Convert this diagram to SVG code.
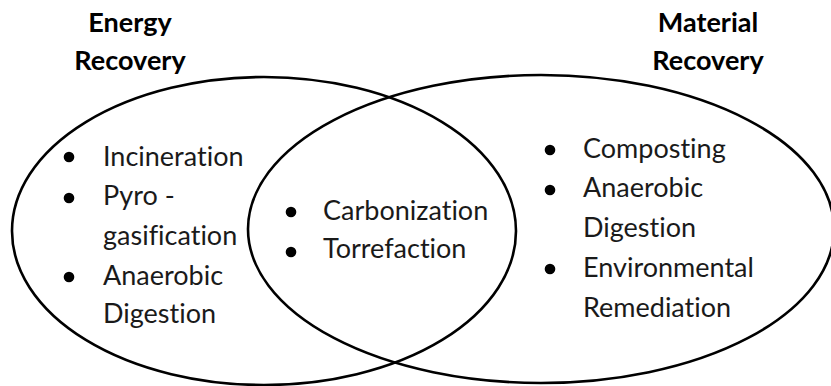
<svg xmlns="http://www.w3.org/2000/svg" width="831" height="386" viewBox="0 0 831 386">
<style>
.ring{fill:none;stroke:#000;stroke-width:2.6}
.t{font-family:Lato,"Liberation Sans",sans-serif;font-size:27px;fill:#1a1a1a;font-variant-ligatures:none;font-feature-settings:"liga" 0,"dlig" 0}
.h{font-family:Lato,"Liberation Sans",sans-serif;font-size:27px;font-weight:bold;fill:#000;text-anchor:middle;font-variant-ligatures:none}
.b{fill:#000}
</style>
<rect width="831" height="386" fill="#fff"/>
<g id="energy">
<ellipse class="ring" cx="264" cy="231" rx="252" ry="154"/>
<text class="h" x="130" y="32">Energy</text>
<text class="h" x="130" y="70">Recovery</text>
<circle class="b" cx="69" cy="157" r="5.3"/>
<text class="t" x="103" y="166">Incineration</text>
<circle class="b" cx="69" cy="198" r="5.3"/>
<text class="t" x="103" y="205">Pyro -</text>
<text class="t" x="103" y="245">gasification</text>
<circle class="b" cx="69" cy="277" r="5.3"/>
<text class="t" x="103" y="285">Anaerobic</text>
<text class="t" x="103" y="323">Digestion</text>
</g>
<g id="material">
<ellipse class="ring" cx="541" cy="229" rx="293" ry="154"/>
<text class="h" x="708" y="32">Material</text>
<text class="h" x="708" y="70">Recovery</text>
<circle class="b" cx="550" cy="150" r="5.3"/>
<text class="t" x="583" y="158">Composting</text>
<circle class="b" cx="550" cy="190" r="5.3"/>
<text class="t" x="583" y="197">Anaerobic</text>
<text class="t" x="583" y="237">Digestion</text>
<circle class="b" cx="550" cy="269" r="5.3"/>
<text class="t" x="583" y="277">Environmental</text>
<text class="t" x="583" y="317">Remediation</text>
</g>
<g id="overlap">
<circle class="b" cx="291" cy="212" r="5.3"/>
<text class="t" x="323" y="220">Carbonization</text>
<circle class="b" cx="291" cy="252" r="5.3"/>
<text class="t" x="323" y="258">Torrefaction</text>
</g>
<g id="connectors"></g>
</svg>
